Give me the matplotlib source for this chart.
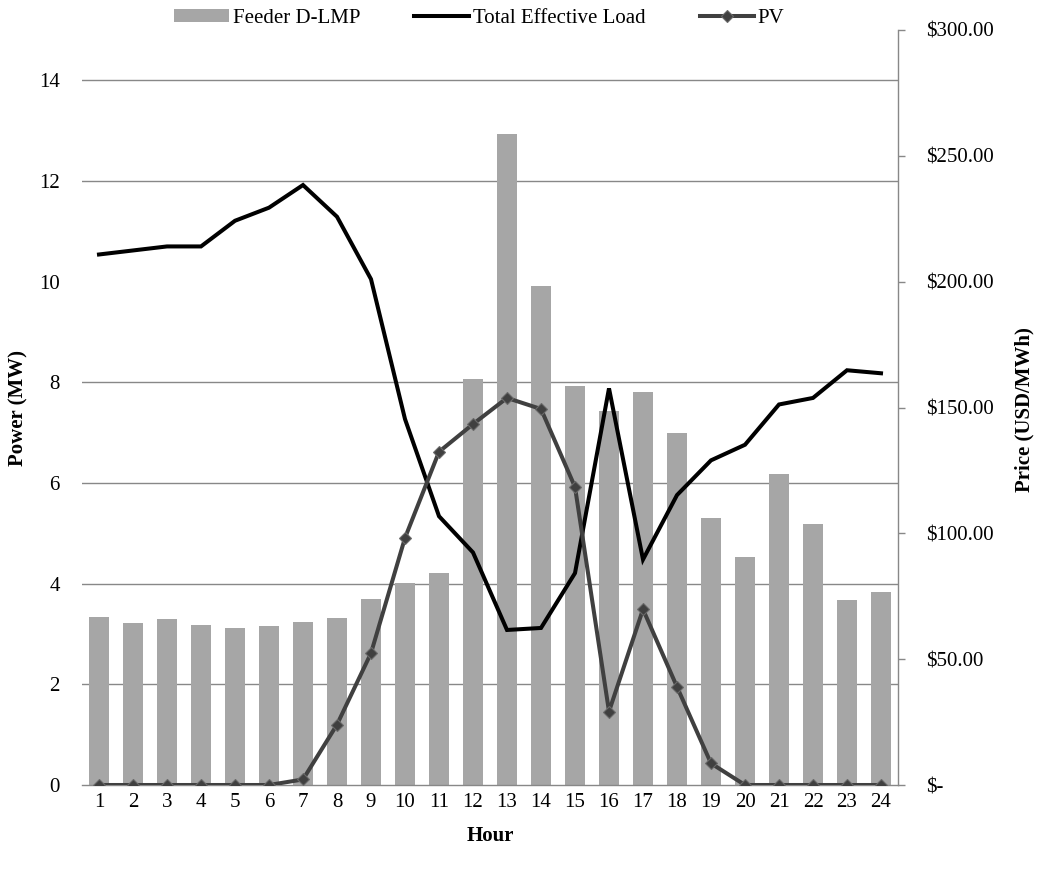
import matplotlib
matplotlib.use("Agg")
import matplotlib.pyplot as plt
from matplotlib.ticker import MultipleLocator, FuncFormatter, FixedLocator

plt.rcParams["font.family"] = ["Liberation Serif", "DejaVu Serif"]
plt.rcParams["font.size"] = 15

hours = list(range(1, 25))
hour_labels = [str(h) for h in hours]

# Feeder distribution LMP, USD/MWh
dlmp = [66.6, 64.4, 65.8, 63.4, 62.4, 63.0, 64.6, 66.4, 74.0, 80.2, 84.2, 161.4,
        258.6, 198.2, 158.4, 148.6, 156.0, 140.0, 106.2, 90.4, 123.6, 103.8, 73.4, 76.8]

# Total effective load, MW
load = [10.54, 10.62, 10.70, 10.70, 11.21, 11.47, 11.92, 11.29, 10.05, 7.27, 5.34, 4.62,
        3.08, 3.12, 4.21, 7.88, 4.48, 5.76, 6.45, 6.76, 7.56, 7.69, 8.24, 8.18]

# PV output, MW
pv = [0, 0, 0, 0, 0, 0, 0.11, 1.20, 2.62, 4.91, 6.62, 7.17,
      7.69, 7.47, 5.92, 1.46, 3.49, 1.95, 0.43, 0, 0, 0, 0, 0]

power_max = 15
price_max = 300
grid_color = "#888888"

fig = plt.figure(figsize=(10.39, 8.76), dpi=100)
ax = fig.add_axes([82 / 1039, 1 - 785 / 876, (898 - 82) / 1039, (785 - 30) / 876])
ax2 = ax.twinx()

# price axis (bars) drawn underneath, with gridlines at every 2 MW
bars = ax.bar(hours, dlmp, width=0.57, color="#A6A6A6", zorder=2, label="Feeder D-LMP")
ax.set_xlim(0.5, 24.5)
ax.set_ylim(0, price_max)
ax.yaxis.set_major_locator(MultipleLocator(50))
ax.yaxis.set_minor_locator(FixedLocator([v * price_max / power_max for v in range(0, 15, 2)]))
ax.grid(which="minor", axis="y", color=grid_color, linewidth=1.0, zorder=0)
ax.set_axisbelow(True)
ax.yaxis.tick_right()
ax.yaxis.set_label_position("right")
ax.tick_params(axis="y", which="major", direction="out", length=5, width=1.0,
               color=grid_color, pad=15, labelsize=15, left=False, labelleft=False,
               right=True, labelright=True)
ax.tick_params(axis="y", which="minor", length=0, left=False, right=False)
ax.yaxis.set_major_formatter(FuncFormatter(lambda v, p: "$-" if abs(v) < 1e-9 else f"${v:,.2f}"))
for side in ["top", "left"]:
    ax.spines[side].set_visible(False)
ax.spines["right"].set_color(grid_color)
ax.spines["bottom"].set_color(grid_color)
ax.spines["right"].set_linewidth(1.0)
ax.spines["bottom"].set_linewidth(1.0)
ax.set_xticks(hours)
ax.set_xticklabels(hour_labels)
ax.tick_params(axis="x", length=0, pad=6, labelsize=15)

# power axis (lines) on top
ax2.set_ylim(0, power_max)
ax2.yaxis.tick_left()
ax2.yaxis.set_label_position("left")
ax2.yaxis.set_major_locator(FixedLocator(list(range(0, 15, 2))))
ax2.tick_params(axis="y", length=0, pad=16, labelsize=15, left=True, labelleft=True,
                right=False, labelright=False)
for side in ["top", "left", "right", "bottom"]:
    ax2.spines[side].set_visible(False)

ln_load, = ax2.plot(hours, load, color="black", linewidth=2.9, solid_joinstyle="miter",
                    label="Total Effective Load", zorder=3)
ln_pv, = ax2.plot(hours, pv, color="#404040", linewidth=2.9, marker="D", markersize=6,
                  markerfacecolor="#404040", markeredgecolor="#6a6a6a", markeredgewidth=0.8,
                  label="PV", zorder=4)

fig.text(18 / 1039, 1 - 408 / 876, "Power (MW)", rotation=90, ha="center", va="center",
         fontsize=15, fontweight="bold")
fig.text(1024 / 1039, 1 - 410 / 876, "Price (USD/MWh)", rotation=90, ha="center", va="center",
         fontsize=15, fontweight="bold")
fig.text(490 / 1039, 1 - 836 / 876, "Hour", ha="center", va="center",
         fontsize=15, fontweight="bold")

fig.legend([bars, ln_load, ln_pv], ["Feeder D-LMP", "Total Effective Load", "PV"],
           loc="center", bbox_to_anchor=(479.5 / 1039, 1 - 18.5 / 876), ncol=3,
           frameon=False, handlelength=2.6, handleheight=0.55, handletextpad=0.2,
           columnspacing=2.6, borderaxespad=0, borderpad=0, fontsize=15)

fig.savefig("out.png", dpi=100)
